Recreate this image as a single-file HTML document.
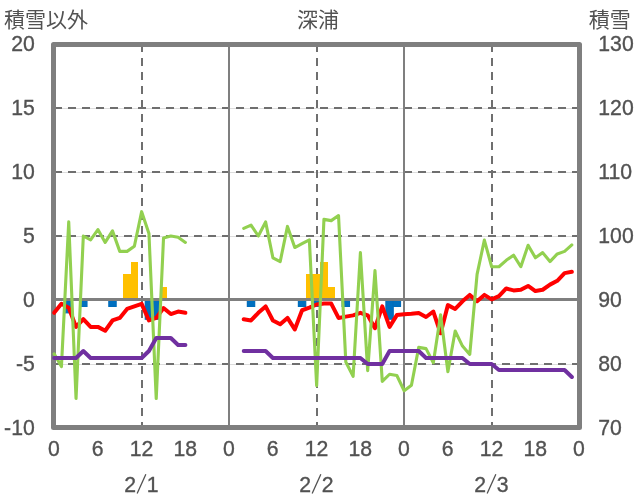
<!DOCTYPE html>
<html lang="ja"><head><meta charset="utf-8"><title>深浦</title>
<style>html,body{margin:0;padding:0;background:#fff;}body{width:636px;height:501px;overflow:hidden;font-family:"Liberation Sans",sans-serif;}</style></head>
<body>
<svg width="636" height="501" viewBox="0 0 636 501" role="img" aria-label="深浦" style="display:block;will-change:transform">
<rect width="636" height="501" fill="#fff"/>
<line x1="54.00" y1="108.50" x2="579.00" y2="108.50" stroke="#dddddd" stroke-width="1"/>
<line x1="54.00" y1="108.00" x2="579.00" y2="108.00" stroke="#6f6f6f" stroke-width="2" stroke-dasharray="8 6"/>
<line x1="54.00" y1="172.50" x2="579.00" y2="172.50" stroke="#dddddd" stroke-width="1"/>
<line x1="54.00" y1="172.00" x2="579.00" y2="172.00" stroke="#6f6f6f" stroke-width="2" stroke-dasharray="8 6"/>
<line x1="54.00" y1="236.50" x2="579.00" y2="236.50" stroke="#dddddd" stroke-width="1"/>
<line x1="54.00" y1="236.00" x2="579.00" y2="236.00" stroke="#6f6f6f" stroke-width="2" stroke-dasharray="8 6"/>
<line x1="54.00" y1="364.50" x2="579.00" y2="364.50" stroke="#dddddd" stroke-width="1"/>
<line x1="54.00" y1="364.00" x2="579.00" y2="364.00" stroke="#6f6f6f" stroke-width="2" stroke-dasharray="8 6"/>
<line x1="142.00" y1="44.00" x2="142.00" y2="428.00" stroke="#6f6f6f" stroke-width="2" stroke-dasharray="8 6"/>
<line x1="317.00" y1="44.00" x2="317.00" y2="428.00" stroke="#6f6f6f" stroke-width="2" stroke-dasharray="8 6"/>
<line x1="492.00" y1="44.00" x2="492.00" y2="428.00" stroke="#6f6f6f" stroke-width="2" stroke-dasharray="8 6"/>
<line x1="229.00" y1="44.00" x2="229.00" y2="428.00" stroke="#7f7f7f" stroke-width="2"/>
<line x1="404.00" y1="44.00" x2="404.00" y2="428.00" stroke="#7f7f7f" stroke-width="2"/>
<rect x="123" y="274" width="8" height="26" fill="#ffc000"/>
<rect x="131" y="262" width="7" height="38" fill="#ffc000"/>
<rect x="160" y="287" width="7" height="13" fill="#ffc000"/>
<rect x="306" y="274" width="7" height="26" fill="#ffc000"/>
<rect x="313" y="274" width="7" height="26" fill="#ffc000"/>
<rect x="320" y="262" width="8" height="38" fill="#ffc000"/>
<rect x="328" y="287" width="7" height="13" fill="#ffc000"/>
<rect x="65.09" y="299.00" width="7.29" height="13.80" fill="#0070c0" stroke="#006cbb" stroke-width="1.2"/>
<rect x="79.67" y="299.00" width="7.29" height="7.40" fill="#0070c0" stroke="#006cbb" stroke-width="1.2"/>
<rect x="108.84" y="299.00" width="7.29" height="7.40" fill="#0070c0" stroke="#006cbb" stroke-width="1.2"/>
<rect x="145.30" y="299.00" width="7.29" height="20.20" fill="#0070c0" stroke="#006cbb" stroke-width="1.2"/>
<rect x="152.59" y="299.00" width="7.29" height="20.20" fill="#0070c0" stroke="#006cbb" stroke-width="1.2"/>
<rect x="247.38" y="299.00" width="7.29" height="7.40" fill="#0070c0" stroke="#006cbb" stroke-width="1.2"/>
<rect x="298.42" y="299.00" width="7.29" height="7.40" fill="#0070c0" stroke="#006cbb" stroke-width="1.2"/>
<rect x="313.00" y="299.00" width="7.29" height="7.40" fill="#0070c0" stroke="#006cbb" stroke-width="1.2"/>
<rect x="342.17" y="299.00" width="7.29" height="7.40" fill="#0070c0" stroke="#006cbb" stroke-width="1.2"/>
<rect x="385.92" y="299.00" width="7.29" height="20.20" fill="#0070c0" stroke="#006cbb" stroke-width="1.2"/>
<rect x="393.21" y="299.00" width="7.29" height="7.40" fill="#0070c0" stroke="#006cbb" stroke-width="1.2"/>
<line x1="54.00" y1="299.50" x2="579.00" y2="299.50" stroke="#7f7f7f" stroke-width="3"/>
<rect x="53.50" y="44.50" width="526.00" height="383.00" fill="none" stroke="#7f7f7f" stroke-width="5" stroke-linejoin="round"/>
<polyline points="54.15,312.80 61.44,303.84 68.73,307.68 76.03,326.88 83.32,319.20 90.61,326.88 97.90,326.88 105.19,330.72 112.48,320.48 119.78,317.92 127.07,308.96 134.36,306.40 141.65,303.84 148.94,320.48 156.23,317.92 163.53,308.06 170.82,314.08 178.11,311.52 185.40,312.80" fill="none" stroke="#ff0000" stroke-width="4" stroke-linecap="round" stroke-linejoin="round"/>
<polyline points="243.73,319.20 251.03,320.48 258.32,312.80 265.61,306.40 272.90,320.48 280.19,324.32 287.48,317.92 294.78,329.44 302.07,310.24 309.36,307.68 316.65,304.48 323.94,303.46 331.23,303.58 338.53,317.92 345.82,316.64 353.11,315.36 360.40,312.80 367.69,315.36 374.98,328.16 382.28,306.40 389.57,326.88 396.86,315.10 404.15,314.34 411.44,313.82 418.73,313.06 426.03,317.02 433.32,311.52 440.61,333.28 447.90,305.12 455.19,308.96 462.48,301.28 469.78,294.88 477.07,301.28 484.36,294.88 491.65,299.36 498.94,296.16 506.23,288.48 513.53,290.40 520.82,289.76 528.11,285.92 535.40,291.04 542.69,289.76 549.98,284.64 557.28,280.80 564.57,273.12 571.86,271.84" fill="none" stroke="#ff0000" stroke-width="4" stroke-linecap="round" stroke-linejoin="round"/>
<polyline points="54.15,353.76 61.44,366.56 68.73,221.92 76.03,398.56 83.32,236.00 90.61,239.84 97.90,229.60 105.19,242.40 112.48,230.88 119.78,251.36 127.07,251.36 134.36,246.24 141.65,211.68 148.94,233.44 156.23,398.56 163.53,237.92 170.82,236.00 178.11,237.28 185.40,242.40" fill="none" stroke="#92d050" stroke-width="3.1" stroke-linecap="round" stroke-linejoin="round"/>
<polyline points="243.73,228.32 251.03,225.12 258.32,236.00 265.61,221.92 272.90,257.76 280.19,261.60 287.48,226.40 294.78,247.52 302.07,243.68 309.36,239.84 316.65,385.76 323.94,219.36 331.23,220.64 338.53,215.52 345.82,362.08 353.11,376.29 360.40,252.64 367.69,370.66 374.98,270.56 382.28,381.41 389.57,374.24 396.86,375.52 404.15,390.75 411.44,385.25 418.73,347.36 426.03,348.64 433.32,362.72 440.61,314.72 447.90,371.68 455.19,330.98 462.48,346.08 469.78,354.40 477.07,274.40 484.36,240.10 491.65,266.72 498.94,266.72 506.23,260.32 513.53,255.20 520.82,266.72 528.11,245.22 535.40,257.76 542.69,252.64 549.98,261.60 557.28,253.92 564.57,251.36 571.86,244.96" fill="none" stroke="#92d050" stroke-width="3.1" stroke-linecap="round" stroke-linejoin="round"/>
<polyline points="54.15,358.00 61.44,358.00 68.73,358.00 76.03,358.00 83.32,351.00 90.61,358.00 97.90,358.00 105.19,358.00 112.48,358.00 119.78,358.00 127.07,358.00 134.36,358.00 141.65,358.00 148.94,351.00 156.23,338.00 163.53,338.00 170.82,338.00 178.11,345.00 185.40,345.00" fill="none" stroke="#7030a0" stroke-width="4" stroke-linecap="round" stroke-linejoin="round"/>
<polyline points="243.73,351.00 251.03,351.00 258.32,351.00 265.61,351.00 272.90,358.00 280.19,358.00 287.48,358.00 294.78,358.00 302.07,358.00 309.36,358.00 316.65,358.00 323.94,358.00 331.23,358.00 338.53,358.00 345.82,358.00 353.11,358.00 360.40,358.00 367.69,364.00 374.98,364.00 382.28,364.00 389.57,351.00 396.86,351.00 404.15,351.00 411.44,351.00 418.73,351.00 426.03,358.00 433.32,358.00 440.61,358.00 447.90,358.00 455.19,358.00 462.48,358.00 469.78,364.00 477.07,364.00 484.36,364.00 491.65,364.00 498.94,370.00 506.23,370.00 513.53,370.00 520.82,370.00 528.11,370.00 535.40,370.00 542.69,370.00 549.98,370.00 557.28,370.00 564.57,370.00 571.86,377.00" fill="none" stroke="#7030a0" stroke-width="4" stroke-linecap="round" stroke-linejoin="round"/>
<g font-family="'Liberation Sans', sans-serif" font-size="22" fill="#525252" stroke="#525252" stroke-width="0.35">
<text transform="translate(34.80,51.00) scale(0.965,1.04)" text-anchor="end">20</text>
<text transform="translate(34.80,115.00) scale(0.965,1.04)" text-anchor="end">15</text>
<text transform="translate(34.80,179.00) scale(0.965,1.04)" text-anchor="end">10</text>
<text transform="translate(34.80,243.00) scale(0.965,1.04)" text-anchor="end">5</text>
<text transform="translate(34.80,307.00) scale(0.965,1.04)" text-anchor="end">0</text>
<text transform="translate(34.80,371.00) scale(0.965,1.04)" text-anchor="end">-5</text>
<text transform="translate(34.80,435.00) scale(0.965,1.04)" text-anchor="end">-10</text>
<text transform="translate(598.30,51.00) scale(0.965,1.04)" text-anchor="start">130</text>
<text transform="translate(598.30,115.00) scale(0.965,1.04)" text-anchor="start">120</text>
<text transform="translate(598.30,179.00) scale(0.965,1.04)" text-anchor="start">110</text>
<text transform="translate(598.30,243.00) scale(0.965,1.04)" text-anchor="start">100</text>
<text transform="translate(598.30,307.00) scale(0.965,1.04)" text-anchor="start">90</text>
<text transform="translate(598.30,371.00) scale(0.965,1.04)" text-anchor="start">80</text>
<text transform="translate(598.30,435.00) scale(0.965,1.04)" text-anchor="start">70</text>
<text transform="translate(53.95,456.10) scale(0.965,1.04)" text-anchor="middle">0</text>
<text transform="translate(97.70,456.10) scale(0.965,1.04)" text-anchor="middle">6</text>
<text transform="translate(141.45,456.10) scale(0.965,1.04)" text-anchor="middle">12</text>
<text transform="translate(185.20,456.10) scale(0.965,1.04)" text-anchor="middle">18</text>
<text transform="translate(228.95,456.10) scale(0.965,1.04)" text-anchor="middle">0</text>
<text transform="translate(272.70,456.10) scale(0.965,1.04)" text-anchor="middle">6</text>
<text transform="translate(316.45,456.10) scale(0.965,1.04)" text-anchor="middle">12</text>
<text transform="translate(360.20,456.10) scale(0.965,1.04)" text-anchor="middle">18</text>
<text transform="translate(403.95,456.10) scale(0.965,1.04)" text-anchor="middle">0</text>
<text transform="translate(447.70,456.10) scale(0.965,1.04)" text-anchor="middle">6</text>
<text transform="translate(491.45,456.10) scale(0.965,1.04)" text-anchor="middle">12</text>
<text transform="translate(535.20,456.10) scale(0.965,1.04)" text-anchor="middle">18</text>
<text transform="translate(578.95,456.10) scale(0.965,1.04)" text-anchor="middle">0</text>
<text transform="translate(135.95,491.80) scale(0.965,1.04)" text-anchor="end">2</text>
<line x1="137.15" y1="493.6" x2="145.85" y2="474.2" stroke="#525252" stroke-width="1.3"/>
<text transform="translate(146.65,491.80) scale(0.965,1.04)" text-anchor="start">1</text>
<text transform="translate(310.95,491.80) scale(0.965,1.04)" text-anchor="end">2</text>
<line x1="312.15" y1="493.6" x2="320.85" y2="474.2" stroke="#525252" stroke-width="1.3"/>
<text transform="translate(321.65,491.80) scale(0.965,1.04)" text-anchor="start">2</text>
<text transform="translate(485.95,491.80) scale(0.965,1.04)" text-anchor="end">2</text>
<line x1="487.15" y1="493.6" x2="495.85" y2="474.2" stroke="#525252" stroke-width="1.3"/>
<text transform="translate(496.65,491.80) scale(0.965,1.04)" text-anchor="start">3</text>
</g>
<text x="4" y="27" font-family="'Liberation Sans', 'Noto Sans CJK JP', sans-serif" font-size="21" fill="#525252">積雪以外</text>
<text x="297" y="27" font-family="'Liberation Sans', 'Noto Sans CJK JP', sans-serif" font-size="21" fill="#525252">深浦</text>
<text x="588.8" y="27" font-family="'Liberation Sans', 'Noto Sans CJK JP', sans-serif" font-size="21" fill="#525252">積雪</text>
</svg>
</body></html>
